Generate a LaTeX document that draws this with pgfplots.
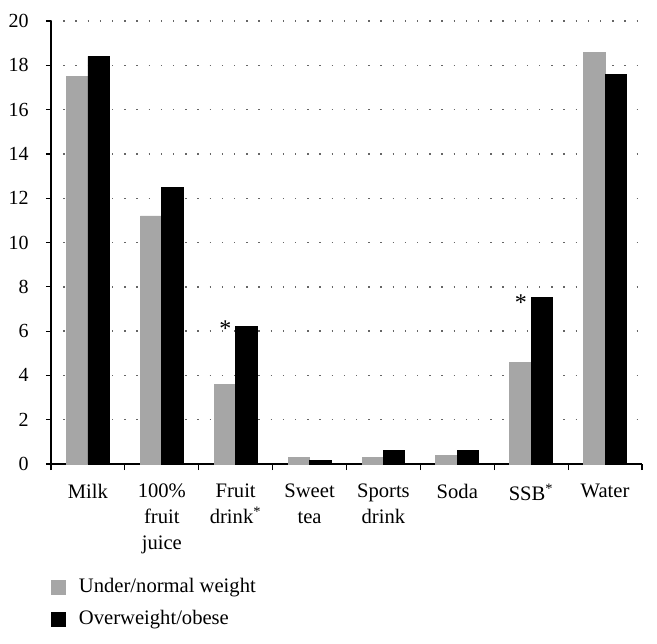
\documentclass[border=0pt]{standalone}
\usepackage{pgfplots}
\pgfplotsset{compat=1.18}
\usepackage{fontspec}
\setmainfont{Liberation Serif}
\definecolor{barGray}{HTML}{A6A6A6}
\pgfplotsset{sq legend/.style={legend image code/.code={\fill[##1] (0pt,-3.5pt) rectangle (7pt,3.5pt);}}}
\begin{document}
\fontsize{10.3}{12}\selectfont
\begin{tikzpicture}
\begin{axis}[
 name=ax,
 scale only axis, width=295.5pt, height=221.5pt,
 xmin=-0.5, xmax=7.5, ymin=0, ymax=20,
 axis x line=bottom, axis y line=left,
 axis line style={-, line width=0.6pt},
 ytick={0,2,...,20},
 ymajorgrids,
 grid style={black!60, line width=0.7pt, dash pattern=on 0.7pt off 5.4pt},
 xtick={0,...,7},
 xticklabels={Milk, {100\%\\fruit\\juice}, {Fruit\\drink\textsuperscript{*}}, {Sweet\\tea}, {Sports\\drink}, Soda, {SSB\textsuperscript{*}}, Water},
 major x tick style={draw=none},
 minor xtick={-0.5,0.5,...,7.5},
 minor tick length=3pt, major tick length=2.5pt,
 tick align=outside,
 tick style={black, line width=0.6pt},
 xticklabel style={align=center, font=\fontsize{10.3}{13}\selectfont, yshift=-3.8pt},
 yticklabel style={font=\fontsize{10}{12}\selectfont, xshift=-5pt},
 /pgf/number format/assume math mode=true,
 ybar=0pt, bar width=0.29,
 legend style={at={(0,0)}, anchor=west, xshift=0pt, yshift=-69.5pt, draw=none, fill=none, inner sep=0pt, outer sep=0pt, row sep=3.2pt, column sep=4.6pt, font=\fontsize{10.3}{12}\selectfont},
 legend cell align=left,
]
\addplot[fill=barGray, draw=barGray, sq legend] coordinates {(0,17.5) (1,11.2) (2,3.6) (3,0.3) (4,0.3) (5,0.4) (6,4.6) (7,18.6)};
\addplot[fill=black, draw=black, sq legend] coordinates {(0,18.4) (1,12.5) (2,6.2) (3,0.15) (4,0.6) (5,0.6) (6,7.5) (7,17.6)};
\legend{Under/normal weight, Overweight/obese}
\node[anchor=base, inner sep=0pt, font=\fontsize{12}{12}\selectfont] at (axis cs:1.86,5.75) {*};
\node[anchor=base, inner sep=0pt, font=\fontsize{12}{12}\selectfont] at (axis cs:5.86,6.95) {*};
\end{axis}
\pgfresetboundingbox
\path ([xshift=-25.5pt,yshift=-89.5pt]ax.south west) rectangle ([xshift=7.5pt,yshift=10.5pt]ax.north east);
\end{tikzpicture}
\end{document}
